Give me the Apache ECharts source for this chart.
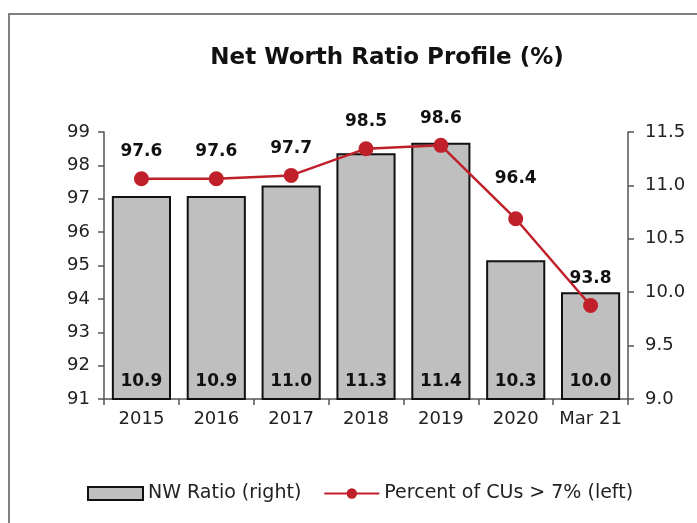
<!DOCTYPE html>
<html>
<head>
<meta charset="utf-8">
<script src="https://cdn.jsdelivr.net/npm/echarts@6/dist/echarts.min.js"></script>
<style>
  html, body { margin: 0; padding: 0; background: #fff; }
  #main { width: 697px; height: 523px; }
</style>
</head>
<body>
<div id="main"></div>
<script>
var categories = ['2015', '2016', '2017', '2018', '2019', '2020', 'Mar 21'];
var nwRatio = [10.9, 10.9, 11.0, 11.3, 11.4, 10.3, 10.0];          // right axis
var pctAbove7 = [97.6, 97.6, 97.7, 98.5, 98.6, 96.4, 93.8];        // left axis

// the source is stretched horizontally, so a wide face fits it better than Arial
var font = 'DejaVu Sans, Verdana, sans-serif';
var chart = echarts.init(document.getElementById('main'));

var lineData = pctAbove7.map(function (v, i) {
  // 2020 label sits higher in the original
  return i === 5 ? { value: v, label: { distance: 24 } } : v;
});

var option = {
  backgroundColor: '#fff',
  textStyle: { fontFamily: font },
  animation: false,
  graphic: [{
    type: 'rect',
    shape: { x: 9, y: 14, width: 720, height: 540 },
    style: { fill: 'none', stroke: '#808080', lineWidth: 2 }
  }],
  title: {
    text: 'Net Worth Ratio Profile (%)',
    left: 382, top: 42, textAlign: 'center',
    textStyle: { fontFamily: font, fontSize: 23, fontWeight: 'bold', color: '#111' }
  },
  legend: {
    left: 82, top: 479,
    itemWidth: 55, itemHeight: 13, itemGap: 22,
    textStyle: { fontFamily: font, fontSize: 19, color: '#222' },
    data: [
      { name: 'NW Ratio (right)', icon: 'rect' },
      { name: 'Percent of CUs > 7% (left)' }
    ]
  },
  grid: { left: 104, right: 69, top: 132, bottom: 124 },
  xAxis: {
    type: 'category',
    data: categories,
    axisLine: { lineStyle: { color: '#555', width: 1.5 } },
    axisTick: { show: true, length: 6, lineStyle: { color: '#555', width: 1.5 } },
    axisLabel: { fontSize: 18, color: '#222', margin: 11, interval: 0 }
  },
  yAxis: [{
    type: 'value', min: 91, max: 99, interval: 1, position: 'left',
    splitLine: { show: false },
    axisLine: { show: true, lineStyle: { color: '#555', width: 1.5 } },
    axisTick: { show: true, length: 6, lineStyle: { color: '#555', width: 1.5 } },
    axisLabel: { fontSize: 18, color: '#222', margin: 14 }
  }, {
    type: 'value', min: 9, max: 11.5, interval: 0.5, position: 'right',
    splitLine: { show: false },
    axisLine: { show: true, lineStyle: { color: '#555', width: 1.5 } },
    axisTick: { show: true, length: 6, lineStyle: { color: '#555', width: 1.5 } },
    axisLabel: { fontSize: 18, color: '#222', margin: 17,
      formatter: function (v) { return v.toFixed(1); } }
  }],
  series: [{
    name: 'NW Ratio (right)',
    type: 'bar',
    yAxisIndex: 1,
    data: nwRatio,
    barCategoryGap: '21%',
    itemStyle: { color: '#bfbfbf', borderColor: '#111', borderWidth: 2 },
    label: {
      show: true, position: 'insideBottom', distance: 10,
      fontFamily: font, fontSize: 17, fontWeight: 'bold', color: '#111',
      formatter: function (p) { return p.value.toFixed(1); }
    }
  }, {
    name: 'Percent of CUs > 7% (left)',
    type: 'line',
    yAxisIndex: 0,
    data: lineData,
    symbol: 'circle', symbolSize: 15,
    lineStyle: { color: '#c0202a', width: 2.5 },
    itemStyle: { color: '#c0202a' },
    label: {
      show: true, position: 'top', distance: 11,
      fontFamily: font, fontSize: 17, fontWeight: 'bold', color: '#111',
      formatter: function (p) { return p.value.toFixed(1); }
    }
  }]
};
chart.setOption(option);
</script>
</body>
</html>
